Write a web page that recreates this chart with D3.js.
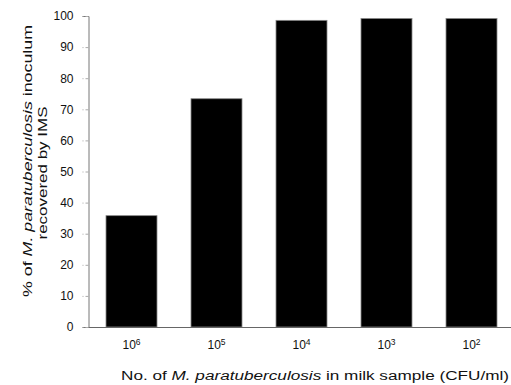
<!DOCTYPE html>
<html>
<head>
<meta charset="utf-8">
<script src="https://cdn.jsdelivr.net/npm/d3@7"></script>
<style>
  body { margin: 0; background: #fff; }
  text { font-family: "Liberation Sans", Arial, sans-serif; fill: #111; }
</style>
</head>
<body>
<script>
// data
const doses = ["6", "5", "4", "3", "2"];       // exponents of 10 (CFU/ml)
const recovered = [35.8, 73.4, 98.6, 99.2, 99.2]; // % recovered by IMS
const yTicks = [0, 10, 20, 30, 40, 50, 60, 70, 80, 90, 100];

function draw() {
	let W = 511, H = 385;
	let svg = d3.select("body").append("svg")
		.attr("width", W)
		.attr("height", H);

	let x = d3.scaleBand()
		.domain(doses)
		.range([89, 514])
		.paddingInner(0.4)
		.paddingOuter(0.2);

	let y = d3.scaleLinear()
		.domain([0, 100])
		.range([327, 16]);

	// bars
	svg.append("g").selectAll("rect")
		.data(recovered)
		.enter()
		.append("rect")
		.attr("x", (d, i) => x(doses[i]))
		.attr("y", (d) => y(d))
		.attr("width", x.bandwidth())
		.attr("height", (d) => y(0) - y(d))
		.attr("fill", "#000")
		.attr("stroke", "#888")
		.attr("stroke-width", 0.8);

	// baseline across the plot
	svg.append("line")
		.attr("x1", 86).attr("x2", 511)
		.attr("y1", y(0) + 0.5).attr("y2", y(0) + 0.5)
		.attr("stroke", "#666");

	// y axis
	let yAxis = svg.append("g")
		.attr("transform", "translate(88.5,0)")
		.call(d3.axisLeft(y).tickValues(yTicks).tickSize(6).tickPadding(9));
	yAxis.select(".domain").attr("stroke", "#777");
	yAxis.selectAll(".tick line").attr("stroke", "#aaa").attr("stroke-dasharray", "3,2");
	yAxis.selectAll(".tick text")
		.attr("font-size", 12)
		.attr("font-family", "Liberation Sans, Arial, sans-serif")
		.attr("fill", "#111");

	// x tick labels: 10 with superscript exponent
	let xl = svg.append("g").selectAll("text")
		.data(doses)
		.enter()
		.append("text")
		.attr("x", (d) => x(d) + x.bandwidth() / 2)
		.attr("y", 349)
		.attr("text-anchor", "middle")
		.attr("font-size", 12);
	xl.append("tspan").text("10");
	xl.append("tspan").attr("dy", -4).attr("font-size", 8.5).text((d) => d);

	// x title
	let xt = svg.append("text")
		.attr("x", 121)
		.attr("y", 380)
		.attr("font-size", 12.5)
		.attr("textLength", 388)
		.attr("lengthAdjust", "spacingAndGlyphs");
	xt.append("tspan").text("No. of ");
	xt.append("tspan").attr("font-style", "italic").text("M. paratuberculosis");
	xt.append("tspan").text(" in milk sample (CFU/ml)");

	// y title, two lines
	let yt = svg.append("text")
		.attr("transform", "translate(32,161) rotate(-90)")
		.attr("text-anchor", "middle")
		.attr("font-size", 12.5)
		.attr("textLength", 272)
		.attr("lengthAdjust", "spacingAndGlyphs");
	yt.append("tspan").text("% of ");
	yt.append("tspan").attr("font-style", "italic").text("M. paratuberculosis");
	yt.append("tspan").text(" inoculum");

	svg.append("text")
		.attr("transform", "translate(47,173) rotate(-90)")
		.attr("text-anchor", "middle")
		.attr("font-size", 12.5)
		.attr("textLength", 133)
		.attr("lengthAdjust", "spacingAndGlyphs")
		.text("recovered by IMS");
}

window.addEventListener("load", draw);
</script>
</body>
</html>
